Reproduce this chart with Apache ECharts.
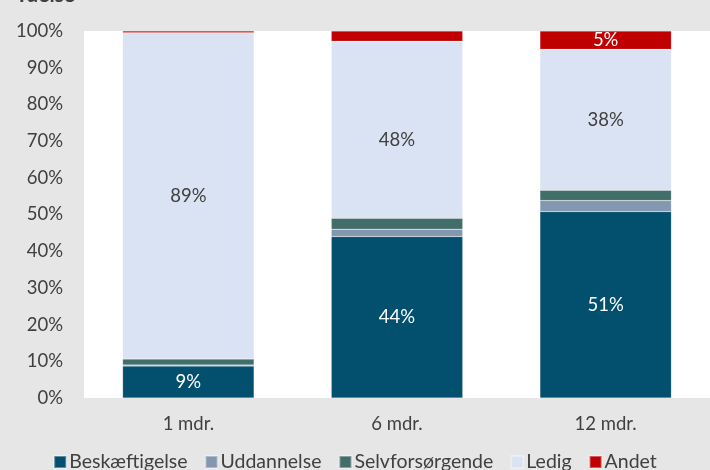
<!DOCTYPE html>
<html><head><meta charset="utf-8">
<script src="https://cdn.jsdelivr.net/npm/echarts@6/dist/echarts.min.js"></script>
<style>html,body{margin:0;padding:0;background:#e6e6e6}#c{width:710px;height:470px}</style>
</head><body><div id="c"></div>
<script>
var categories = ['1 mdr.', '6 mdr.', '12 mdr.'];
var beskaeftigelse = [8.7, 44.0, 50.8];
var uddannelse = [0.3, 2.0, 3.0];
var selvforsorgende = [1.6, 3.0, 2.8];
var ledig = [88.9, 48.2, 38.4];
var andet = [0.5, 2.8, 5.0];
var yTicks = ['0%','10%','20%','30%','40%','50%','60%','70%','80%','90%','100%'];

var font = 'Lato, "Open Sans", sans-serif';
function mk(name, data, color, labelColor, offsets) {
  return {
    name: name, type: 'bar', stack: 'a', barWidth: '63%',
    data: data.map(function (v, i) {
      var o = { value: v };
      if (offsets && offsets[i]) o.label = { offset: offsets[i] };
      return o;
    }),
    itemStyle: { color: color, borderColor: 'rgba(255,255,255,0.35)', borderWidth: 0.5 },
    label: {
      show: true, position: 'inside', color: labelColor, fontSize: 18.5, fontFamily: font,
      formatter: function (p) { return p.value >= 4 ? Math.round(p.value) + '%' : ''; }
    },
    emphasis: { disabled: true }
  };
}
var chart = echarts.init(document.getElementById('c'));
chart.setOption({
  backgroundColor: '#e6e6e6',
  animation: false,
  title: { text: 'Ydelse', left: 10, top: -20, textStyle: { fontSize: 21, fontWeight: 'bold', color: '#404040', fontFamily: font } },
  grid: { left: 84, right: -10, top: 31, bottom: 72, show: true, backgroundColor: '#ffffff', borderWidth: 0 },
  legend: {
    bottom: -7, left: 'center', itemWidth: 12, itemHeight: 12, itemGap: 17,
    icon: 'rect',
    textStyle: { fontSize: 19.5, color: '#404040', fontFamily: font, padding: [0, 0, 0, -2] },
    data: ['Beskæftigelse', 'Uddannelse', 'Selvforsørgende', 'Ledig', 'Andet']
  },
  xAxis: {
    type: 'category', data: categories,
    axisLine: { show: false }, axisTick: { show: false },
    axisLabel: { fontSize: 18.5, color: '#404040', fontFamily: font, margin: 17 }
  },
  yAxis: {
    type: 'value', min: 0, max: 100, interval: 10,
    splitLine: { show: false }, axisLine: { show: false }, axisTick: { show: false },
    axisLabel: { fontSize: 18.5, color: '#404040', fontFamily: font, margin: 21,
      formatter: function (v) { return yTicks[Math.round(v / 10)]; } }
  },
  series: [
    mk('Beskæftigelse', beskaeftigelse, '#02506e', '#ffffff'),
    mk('Uddannelse', uddannelse, '#8497b0', '#ffffff'),
    mk('Selvforsørgende', selvforsorgende, '#426e6a', '#ffffff'),
    mk('Ledig', ledig, '#dae3f3', '#404040', [null, [0, 10], null]),
    mk('Andet', andet, '#c00000', '#ffffff')
  ]
});
</script></body></html>
